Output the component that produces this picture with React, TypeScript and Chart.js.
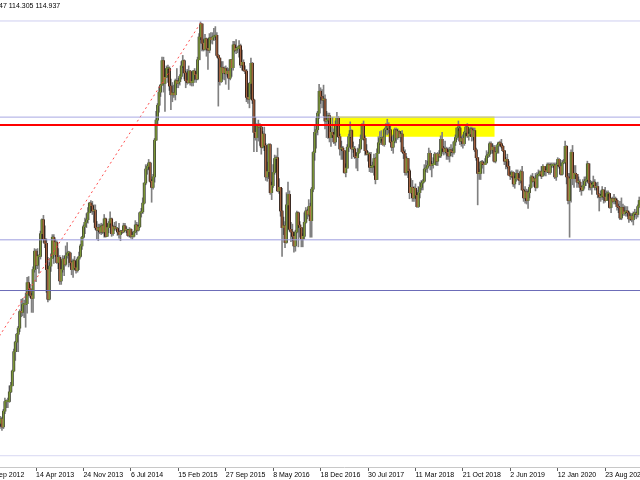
import { useEffect, useRef } from "react";
import { Chart, registerables } from "chart.js";

Chart.register(...registerables);

// USDJPY weekly, one value per week starting with the week of 2 Sep 2012
const firstOpen = 78.2;

const weekClose = [
  // 2012
  78.3, 78.3, 78.2, 77.9, 78.7, 78.4, 79.3, 79.9, 80.4, 79.5, 81.3, 82.4, 82.4, 82.4, 83.5, 84.2, 85.9, 88.1,
  // 2013
  89.2, 90.1, 90.8, 92.7, 92.6, 93.5, 93.5, 93.6, 96.0, 95.3, 94.5, 94.2, 97.5, 99.6, 98.0, 99.0, 99.0, 101.6,
  103.2, 101.0, 100.5, 97.5, 94.1, 97.9, 98.8, 101.2, 99.2, 100.6, 98.3, 98.9, 96.2, 97.5, 98.7, 98.1, 99.1, 99.4,
  99.4, 98.3, 97.5, 98.5, 97.7, 97.4, 98.7, 99.0, 100.2, 101.2, 102.4, 102.9, 103.2, 104.0, 105.1, 104.8,
  // 2014
  104.2, 104.3, 102.3, 102.0, 102.3, 101.8, 102.5, 101.8, 103.3, 101.3, 102.3, 102.8, 103.3, 101.6, 102.4, 102.2,
  102.2, 101.8, 101.5, 101.9, 101.8, 102.5, 102.0, 102.0, 101.4, 102.1, 101.3, 101.3, 101.8, 102.6, 102.0, 102.4,
  104.0, 104.1, 105.1, 107.4, 109.0, 109.3, 109.7, 107.6, 106.9, 108.1, 112.3, 114.6, 116.3, 117.8, 118.6, 121.4,
  118.8, 119.5, 120.5, 120.5,
  // 2015
  118.5, 117.5, 117.7, 117.5, 119.1, 118.8, 119.0, 119.6, 120.8, 121.4, 120.0, 119.1, 118.9, 120.2, 118.9, 118.9,
  120.2, 119.8, 119.3, 121.5, 124.1, 125.6, 123.4, 122.7, 123.9, 122.8, 122.6, 124.0, 123.8, 124.1, 124.2, 124.3,
  122.0, 121.7, 119.0, 120.6, 120.0, 120.5, 119.9, 120.2, 119.4, 121.5, 120.6, 123.2, 122.6, 122.8, 122.8, 123.1,
  120.9, 121.2, 120.3, 120.2,
  // 2016
  117.2, 117.0, 118.8, 121.1, 116.9, 113.2, 112.6, 114.0, 113.8, 113.8, 111.5, 113.0, 111.7, 108.1, 108.7, 111.8,
  106.3, 107.1, 108.6, 110.2, 110.3, 106.5, 106.9, 104.2, 102.3, 102.5, 100.6, 104.9, 106.1, 102.1, 101.8, 101.3,
  100.2, 101.8, 104.0, 102.6, 102.3, 101.0, 101.3, 102.9, 104.2, 103.8, 104.7, 103.1, 106.7, 110.9, 113.2, 113.5,
  115.4, 117.9, 117.3, 116.9,
  // 2017
  117.0, 114.5, 114.6, 115.1, 112.6, 113.2, 112.9, 112.1, 114.1, 114.8, 112.7, 111.3, 111.4, 111.1, 108.6, 109.1,
  111.5, 112.7, 113.4, 111.3, 111.3, 110.4, 110.3, 110.9, 111.3, 112.4, 113.9, 112.5, 111.1, 110.7, 110.7, 109.2,
  109.2, 109.4, 110.2, 107.8, 110.8, 112.0, 112.5, 112.6, 111.8, 113.5, 113.7, 114.1, 113.5, 112.1, 111.5, 112.2,
  113.5, 112.6, 113.3, 112.7, 113.0,
  // 2018
  111.0, 110.8, 108.6, 110.2, 108.8, 106.3, 106.9, 105.7, 106.8, 106.0, 104.7, 106.3, 106.9, 107.4, 107.6, 109.0,
  109.1, 109.4, 110.8, 109.4, 109.5, 109.5, 110.7, 109.9, 110.7, 110.5, 112.4, 111.4, 111.0, 111.3, 110.9, 110.5,
  111.2, 111.0, 110.9, 112.1, 112.6, 113.7, 113.7, 112.2, 112.5, 111.9, 113.2, 113.8, 112.8, 113.0, 113.6, 112.7,
  113.4, 111.2, 110.3, 108.5,
  // 2019
  108.5, 109.8, 109.6, 109.5, 109.7, 110.5, 110.7, 111.9, 111.2, 111.5, 109.9, 110.9, 111.7, 112.0, 111.9, 111.6,
  111.1, 109.9, 110.1, 109.3, 108.3, 108.2, 108.6, 107.3, 107.9, 108.5, 107.9, 107.7, 108.7, 106.6, 105.7, 106.4,
  105.4, 106.3, 106.9, 108.1, 107.6, 107.9, 106.9, 108.3, 108.4, 108.7, 108.2, 109.3, 108.8, 108.7, 109.5, 108.6,
  109.4, 109.4, 109.4, 108.1,
  // 2020 - Feb 2021
  109.5, 110.1, 109.3, 108.4, 109.7, 109.8, 111.6, 108.1, 105.4, 107.9, 110.9, 107.9, 108.5, 108.4, 107.5, 107.5,
  106.9, 106.6, 107.1, 107.6, 107.8, 109.6, 107.4, 106.9, 107.2, 107.5, 106.9, 107.0, 106.1, 105.8, 105.9, 106.6,
  105.8, 105.4, 106.2, 106.2, 104.6, 105.6, 105.3, 105.6, 105.4, 104.7, 104.6, 103.4, 104.6, 103.9, 104.1, 104.2,
  104.0, 103.3, 103.6, 103.2, 103.9, 103.9, 103.8, 104.7, 105.4, 104.9,
];

const weekHigh = [
  // 2012
  78.9, 78.5, 79.2, 78.2, 78.9, 78.8, 79.5, 80.4, 80.7, 80.6, 81.5, 82.8, 82.6, 82.8, 84.2, 84.6, 86.0, 88.4,
  // 2013
  89.3, 90.2, 91.0, 92.9, 94.1, 94.2, 94.0, 94.8, 96.6, 96.7, 95.8, 94.8, 97.8, 99.9, 99.8, 99.9, 99.2, 101.9,
  103.3, 103.7, 102.5, 101.0, 98.9, 98.3, 99.3, 101.5, 101.5, 101.0, 100.8, 99.9, 99.1, 98.5, 99.1, 99.0, 100.2, 100.6,
  99.6, 99.5, 98.4, 98.7, 99.0, 98.5, 98.9, 99.5, 100.4, 101.3, 102.6, 103.4, 103.9, 104.6, 105.2, 105.4,
  // 2014
  105.3, 104.9, 104.9, 103.0, 102.7, 102.7, 102.8, 102.7, 103.8, 103.4, 102.7, 103.0, 104.1, 103.4, 102.6, 102.9,
  103.0, 102.3, 102.8, 102.0, 102.0, 102.8, 102.8, 102.4, 102.1, 102.3, 102.2, 101.8, 101.9, 103.1, 102.9, 102.6,
  104.1, 104.5, 105.7, 107.4, 109.5, 109.5, 110.1, 109.8, 107.8, 108.4, 112.5, 115.6, 116.5, 118.4, 118.7, 121.8,
  121.8, 119.9, 120.8, 120.9,
  // 2015
  120.7, 119.3, 118.9, 118.6, 119.3, 120.5, 119.4, 119.8, 121.3, 122.0, 121.5, 120.2, 120.4, 120.8, 120.3, 120.1,
  120.3, 120.5, 120.1, 121.8, 124.5, 125.86, 125.6, 123.8, 124.4, 124.0, 123.0, 124.5, 124.6, 124.6, 125.1, 125.3,
  124.6, 122.1, 121.7, 121.3, 121.3, 120.7, 120.8, 120.6, 120.5, 121.5, 121.5, 123.6, 123.6, 123.8, 123.0, 123.7,
  123.3, 122.6, 121.5, 120.8,
  // 2016
  120.4, 118.4, 118.9, 121.7, 121.2, 117.0, 114.9, 114.2, 114.6, 114.2, 114.1, 113.3, 113.8, 111.9, 109.8, 111.9,
  111.9, 107.5, 109.5, 110.6, 110.5, 111.4, 107.9, 106.9, 106.8, 103.5, 103.0, 106.3, 107.5, 106.5, 102.9, 102.7,
  101.5, 102.0, 104.2, 104.1, 103.0, 102.3, 101.6, 104.0, 104.6, 104.4, 105.5, 105.1, 106.9, 111.0, 113.9, 114.8,
  115.6, 118.7, 118.3, 118.1,
  // 2017
  118.6, 117.5, 115.6, 115.4, 115.4, 113.8, 114.9, 113.6, 114.5, 115.5, 115.0, 113.0, 112.2, 111.6, 111.1, 109.6,
  111.8, 113.0, 114.4, 113.5, 112.1, 111.6, 110.8, 111.4, 111.8, 112.9, 114.2, 114.5, 112.8, 111.8, 111.0, 110.9,
  110.9, 109.8, 110.7, 110.3, 111.3, 112.7, 113.3, 113.4, 112.7, 113.6, 114.2, 114.7, 114.3, 113.9, 112.7, 112.9,
  113.7, 113.7, 113.6, 113.4, 113.3,
  // 2018
  113.4, 111.5, 111.2, 110.4, 110.2, 109.0, 107.9, 107.7, 107.0, 107.3, 106.6, 107.0, 107.5, 107.7, 107.8, 109.5,
  110.0, 109.9, 111.4, 111.1, 109.9, 110.3, 110.9, 110.8, 110.9, 111.1, 112.8, 113.2, 111.6, 112.2, 111.5, 111.4,
  111.5, 111.8, 111.4, 112.2, 112.9, 113.7, 114.5, 113.9, 112.7, 112.9, 113.3, 114.1, 114.2, 113.2, 113.8, 113.8,
  113.7, 113.7, 111.4, 110.3,
  // 2019
  109.0, 109.9, 110.0, 109.9, 110.2, 111.1, 110.9, 112.1, 112.1, 111.9, 111.7, 111.0, 111.8, 112.1, 112.2, 112.4,
  111.7, 111.1, 110.3, 110.7, 109.9, 108.7, 108.8, 108.7, 108.2, 108.9, 108.9, 108.4, 108.9, 109.3, 106.7, 107.0,
  106.7, 106.6, 107.2, 108.3, 108.5, 108.1, 108.5, 108.6, 108.9, 108.8, 109.3, 109.5, 109.2, 109.0, 109.7, 109.7,
  109.7, 109.7, 109.7, 109.7,
  // 2020 - Feb 2021
  109.7, 110.3, 110.2, 109.3, 110.0, 110.1, 112.2, 111.7, 108.5, 108.5, 111.2, 111.7, 109.4, 109.4, 108.1, 108.1,
  107.8, 107.0, 107.8, 108.1, 108.1, 109.9, 109.6, 107.7, 107.6, 108.2, 107.8, 107.4, 107.5, 106.2, 106.5, 107.0,
  106.6, 106.9, 106.5, 106.5, 106.2, 105.7, 105.8, 106.1, 105.8, 105.6, 105.0, 105.3, 105.7, 105.0, 104.8, 104.7,
  104.7, 104.2, 103.9, 103.9, 104.1, 104.4, 104.1, 104.9, 105.8, 105.6,
];

const weekLow = [
  // 2012
  78.1, 77.1, 77.9, 77.4, 77.9, 78.0, 78.4, 79.2, 79.6, 79.1, 79.3, 81.0, 81.7, 81.7, 82.3, 83.4, 84.2, 85.8,
  // 2013
  87.1, 88.1, 88.1, 90.4, 92.1, 92.2, 92.0, 90.9, 92.5, 94.6, 94.3, 92.6, 92.6, 97.2, 96.1, 97.6, 97.1, 98.7,
  101.0, 100.6, 100.0, 94.9, 93.8, 94.0, 97.3, 98.8, 98.2, 99.0, 98.2, 97.6, 95.8, 95.8, 97.2, 96.8, 97.9, 98.8,
  97.8, 98.0, 96.9, 96.6, 97.5, 97.1, 97.2, 97.5, 98.9, 99.8, 101.1, 101.6, 102.3, 102.8, 104.0, 104.0,
  // 2014
  103.8, 102.9, 102.1, 101.0, 100.8, 101.6, 101.5, 101.6, 101.2, 101.2, 101.3, 101.7, 102.7, 101.3, 101.4, 102.0,
  102.0, 101.4, 101.1, 100.8, 101.6, 101.7, 101.9, 101.7, 101.3, 101.2, 101.1, 101.0, 101.2, 101.7, 101.5, 101.9,
  102.3, 103.5, 103.9, 105.0, 107.2, 108.4, 108.9, 107.5, 105.2, 106.7, 107.5, 112.3, 114.0, 115.5, 117.3, 118.6,
  117.8, 115.6, 119.5, 118.9,
  // 2015
  118.0, 115.8, 116.7, 117.2, 116.9, 118.3, 118.3, 118.6, 119.3, 120.6, 119.3, 118.3, 118.7, 118.8, 118.6, 118.5,
  118.5, 119.2, 118.9, 119.2, 121.5, 123.8, 122.5, 122.5, 122.6, 121.9, 120.4, 122.3, 123.4, 123.3, 123.7, 123.8,
  121.8, 116.2, 118.6, 118.9, 119.3, 119.2, 118.7, 119.6, 118.1, 119.2, 119.6, 120.3, 122.4, 122.2, 122.3, 121.8,
  120.6, 120.3, 120.2, 119.9,
  // 2016
  116.7, 116.5, 116.0, 117.6, 116.5, 111.0, 112.3, 111.0, 112.2, 111.7, 110.7, 111.4, 111.1, 107.7, 107.6, 107.9,
  106.1, 105.5, 106.9, 108.4, 108.7, 106.4, 106.2, 103.6, 99.0, 101.5, 100.0, 100.5, 104.4, 101.9, 100.7, 100.8,
  99.5, 99.6, 101.7, 100.1, 101.2, 100.1, 100.1, 101.0, 102.8, 103.3, 103.6, 101.2, 101.2, 106.4, 110.0, 111.4,
  112.9, 114.8, 116.5, 116.0,
  // 2017
  115.1, 113.6, 112.6, 112.5, 112.1, 111.6, 112.6, 111.9, 111.7, 113.4, 112.6, 110.6, 110.1, 110.1, 108.5, 108.1,
  109.2, 111.0, 112.6, 110.2, 110.9, 110.2, 109.1, 108.8, 110.8, 111.3, 112.4, 112.3, 110.6, 110.6, 109.9, 108.7,
  108.6, 108.6, 108.3, 107.3, 107.9, 110.8, 111.8, 112.2, 111.7, 111.6, 113.0, 112.9, 113.1, 112.0, 111.1, 110.8,
  112.0, 112.0, 112.4, 112.6, 112.1,
  // 2018
  110.9, 110.2, 108.3, 108.3, 108.0, 105.6, 106.2, 105.3, 105.3, 105.6, 104.6, 104.6, 105.7, 106.6, 106.6, 107.5,
  108.7, 108.6, 109.3, 108.9, 108.1, 109.1, 109.5, 109.4, 109.4, 110.3, 110.3, 110.8, 110.6, 110.7, 110.1, 110.1,
  109.8, 110.5, 110.4, 110.7, 111.7, 112.4, 113.4, 111.8, 111.6, 111.4, 111.7, 112.9, 112.6, 112.3, 112.9, 112.2,
  112.3, 111.0, 110.0, 104.9,
  // 2019
  107.8, 107.8, 109.1, 108.5, 109.5, 109.7, 110.3, 110.4, 110.8, 110.8, 109.8, 109.7, 110.8, 110.8, 111.6, 111.4,
  111.0, 109.5, 109.0, 109.1, 108.3, 107.8, 108.0, 107.0, 106.8, 107.6, 107.8, 107.2, 107.4, 106.6, 105.3, 105.1,
  105.0, 104.5, 105.7, 106.8, 107.5, 107.0, 106.5, 106.8, 108.2, 108.2, 107.9, 108.2, 108.3, 108.2, 108.6, 108.4,
  108.4, 109.2, 109.2, 107.9,
  // 2020 - Feb 2021
  107.7, 109.4, 109.1, 108.3, 108.3, 109.6, 109.7, 107.3, 105.0, 101.2, 105.2, 107.2, 106.9, 107.9, 106.9, 107.3,
  106.4, 106.0, 106.5, 106.8, 107.1, 107.6, 106.6, 106.6, 106.1, 107.1, 106.6, 106.6, 105.7, 104.2, 105.3, 105.5,
  105.1, 105.2, 105.6, 105.9, 104.5, 104.0, 105.2, 105.0, 105.0, 104.3, 104.0, 103.2, 103.2, 103.7, 103.7, 103.6,
  103.6, 102.9, 103.1, 102.95, 102.6, 103.5, 103.3, 103.5, 104.6, 104.4,
];

// time axis labels (every 32 weeks)
const tickWeeks = [0, 32, 64, 96, 128, 160, 192, 224, 256, 288, 320, 352, 384, 416];
const tickLabels = [
  "2 Sep 2012", "14 Apr 2013", "24 Nov 2013", "6 Jul 2014", "15 Feb 2015", "27 Sep 2015", "8 May 2016",
  "18 Dec 2016", "30 Jul 2017", "11 Mar 2018", "21 Oct 2018", "2 Jun 2019", "12 Jan 2020", "23 Aug 2020",
];

// horizontal price levels
const levelPrices = [125.94, 114.94, 114.04, 100.9, 95.1, 76.2];
// yellow zone
const zoneWeeks = [229.6, 341.5];
const zonePrices = [112.7, 115.0];
// dotted trend line
const trendWeeks = [0, 143.6];
const trendPrices = [87.97, 125.86];

const headerText = "47 114.305 114.937";

const levelColors = ["#cfcff0", "#a9a9e4", "#ff0000", "#9c9cde", "#6c6cb8", "#d8d8f2"];
const levelWidths = [1, 1, 2, 1, 1, 1];

export default function App() {
  const ref = useRef<HTMLCanvasElement | null>(null);

  useEffect(() => {
    const canvas = ref.current;
    if (!canvas) return;

    const opens = weekClose.map((c, i) => (i === 0 ? firstOpen : weekClose[i - 1]));
    const bull = weekClose.map((c, i) => c >= opens[i]);
    const bodyData = weekClose.map((c, i) => ({ x: i, y: [opens[i], c] }));
    const wickData = weekClose.map((c, i) => ({ x: i, y: [weekLow[i], weekHigh[i]] }));

    const headerPlugin = {
      id: "headerText",
      afterDraw(chart: any) {
        const c = chart.ctx;
        c.save();
        c.font = '7px "Liberation Sans"';
        c.fillStyle = "#000";
        c.textBaseline = "middle";
        c.textAlign = "left";
        c.fillText(headerText, 11, 6.5);
        c.restore();
      },
    };

    const levelSets = levelPrices.map((p, k) => ({
      type: "line" as const,
      data: [
        { x: -5, y: p },
        { x: 490, y: p },
      ],
      borderColor: levelColors[k],
      borderWidth: levelWidths[k],
      pointRadius: 0,
      fill: false,
      order: 0,
    }));

    const chart = new Chart(canvas, {
      type: "bar",
      data: {
        datasets: [
          ...levelSets,
          {
            type: "line",
            data: trendWeeks.map((w, i) => ({ x: w, y: trendPrices[i] })),
            borderColor: "rgba(255,60,60,0.9)",
            borderWidth: 1,
            borderDash: [2, 3],
            pointRadius: 0,
            fill: false,
            order: 1,
          },
          // inner body tint
          {
            type: "bar",
            data: bodyData as any,
            backgroundColor: bull.map((b) => (b ? "rgba(175,220,60,0.6)" : "rgba(250,150,100,0.65)")),
            barThickness: 0.9,
            minBarLength: 1,
            grouped: false,
            order: 2,
          },
          // body outline
          {
            type: "bar",
            data: bodyData as any,
            backgroundColor: bull.map((b) => (b ? "#333333" : "#000000")),
            barThickness: 2.2,
            minBarLength: 1,
            grouped: false,
            order: 3,
          },
          {
            type: "bar",
            data: wickData as any,
            backgroundColor: "#808080",
            barThickness: 1,
            grouped: false,
            order: 4,
          },
          {
            type: "line",
            data: zoneWeeks.map((w) => ({ x: w, y: zonePrices[1] })),
            borderWidth: 0,
            borderColor: "rgba(0,0,0,0)",
            backgroundColor: "#ffff00",
            pointRadius: 0,
            fill: { value: zonePrices[0] },
            order: 5,
          },
        ] as any,
      },
      options: {
        responsive: false,
        animation: false,
        devicePixelRatio: 1,
        events: [],
        layout: { padding: 0 },
        plugins: {
          legend: { display: false },
          tooltip: { enabled: false },
          title: { display: false },
        },
        scales: {
          x: {
            type: "linear",
            min: -0.405,
            max: 480,
            offset: false,
            afterBuildTicks: (s: any) => {
              s.ticks = tickWeeks.map((v) => ({ value: v }));
            },
            afterFit: (s: any) => {
              s.height = 13;
            },
            ticks: {
              autoSkip: false,
              maxRotation: 0,
              minRotation: 0,
              align: "start",
              padding: 0,
              color: "#000",
              font: { family: "Liberation Sans", size: 7 },
              callback: (v: any) => {
                const k = tickWeeks.indexOf(Number(v));
                return k >= 0 ? tickLabels[k] : "";
              },
            },
            grid: {
              display: true,
              drawOnChartArea: false,
              drawTicks: true,
              tickLength: 4,
              color: "#606060",
              offset: false,
            },
            border: { display: true, color: "#c8c8c8" },
          },
          y: {
            type: "linear",
            display: false,
            min: 74.91,
            max: 128.34,
          },
        },
      } as any,
      plugins: [headerPlugin],
    });

    return () => chart.destroy();
  }, []);

  return (
    <div style={{ position: "fixed", left: -12, top: 0, width: 712, height: 480, background: "#fff" }}>
      <canvas ref={ref} width={712} height={480} style={{ display: "block", width: 712, height: 480 }} />
    </div>
  );
}
